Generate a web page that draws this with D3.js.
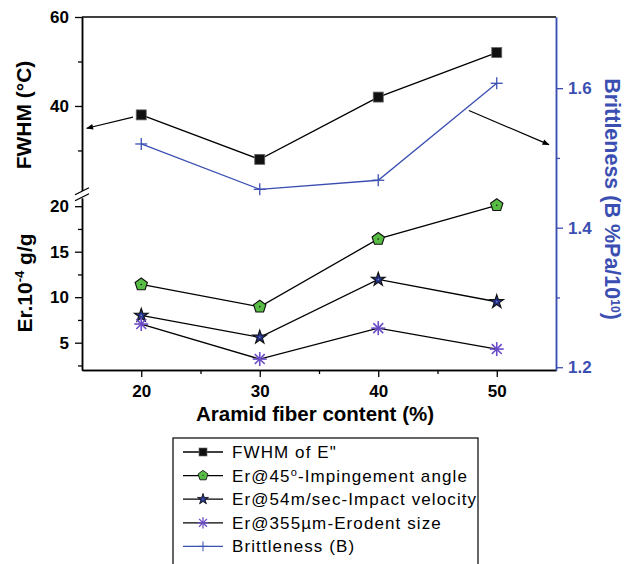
<!DOCTYPE html>
<html>
<head>
<meta charset="utf-8">
<script src="https://cdn.jsdelivr.net/npm/d3@7"></script>
<style>
  body { margin: 0; background: #fff; }
  svg { display: block; font-family: "Liberation Sans", Arial, sans-serif; }
</style>
</head>
<body>
<svg></svg>
<script>
// data
const fiber = [20, 30, 40, 50];
const fwhm = [38, 28, 42, 52];
const erAngle = [11.4, 8.95, 16.4, 20.1];
const erVelocity = [8.0, 5.6, 11.95, 9.5];
const erSize = [7.05, 3.2, 6.6, 4.3];
const brittleness = [1.52, 1.455, 1.468, 1.607];

const xTicks = [20, 30, 40, 50];
const xMinor = [25, 35, 45];
const upperTicks = [40, 60];
const upperMinor = [30, 50];
const lowerTicks = [5, 10, 15, 20];
const lowerMinor = [2.5, 7.5, 12.5, 17.5];
const rightTicks = [1.2, 1.4, 1.6];
const rightMinor = [1.3, 1.5];

const size = { w: 625, h: 564 };
const plot = { l: 82, r: 556, t: 17, b: 370, breakTop: 190.5, breakBot: 198 };
const blue = "#3b4fb2";

const svg = d3.select("svg").attr("width", size.w).attr("height", size.h);

const x = d3.scaleLinear().domain([15, 55]).range([plot.l, plot.r]);
const yUp = d3.scaleLinear().domain([21, 60]).range([plot.breakTop, plot.t]);
const yLow = d3.scaleLinear().domain([2, 20.9]).range([plot.b, plot.breakBot]);
const yR = d3.scaleLinear().domain([1.196, 1.702]).range([plot.b, plot.t]);

function styleAxis(g, color) {
	g.select(".domain").attr("stroke", color).attr("stroke-width", 1.5);
	g.selectAll(".tick line").attr("stroke", color).attr("stroke-width", 1.3);
	g.selectAll(".tick text")
		.attr("fill", color)
		.style("font-size", "17px")
		.style("font-weight", "bold");
}

// top frame
svg.append("line")
	.attr("x1", plot.l).attr("x2", plot.r)
	.attr("y1", plot.t).attr("y2", plot.t)
	.attr("stroke", "#000").attr("stroke-width", 1.5);

// x axis
svg.append("g")
	.attr("transform", `translate(0,${plot.b})`)
	.call(d3.axisBottom(x).tickValues(xMinor).tickSize(4).tickSizeOuter(0).tickFormat(""))
	.call((g) => styleAxis(g, "#000"));
svg.append("g")
	.attr("transform", `translate(0,${plot.b})`)
	.call(d3.axisBottom(x).tickValues(xTicks).tickSize(7).tickSizeOuter(0).tickPadding(8))
	.call((g) => styleAxis(g, "#000"));

// left axis, upper segment (FWHM)
svg.append("g")
	.attr("transform", `translate(${plot.l},0)`)
	.call(d3.axisLeft(yUp).tickValues(upperMinor).tickSize(4).tickSizeOuter(0).tickFormat(""))
	.call((g) => styleAxis(g, "#000"));
svg.append("g")
	.attr("transform", `translate(${plot.l},0)`)
	.call(d3.axisLeft(yUp).tickValues(upperTicks).tickSize(7).tickSizeOuter(0).tickPadding(6))
	.call((g) => styleAxis(g, "#000"));

// left axis, lower segment (Er)
svg.append("g")
	.attr("transform", `translate(${plot.l},0)`)
	.call(d3.axisLeft(yLow).tickValues(lowerMinor).tickSize(4).tickSizeOuter(0).tickFormat(""))
	.call((g) => styleAxis(g, "#000"));
svg.append("g")
	.attr("transform", `translate(${plot.l},0)`)
	.call(d3.axisLeft(yLow).tickValues(lowerTicks).tickSize(7).tickSizeOuter(0).tickPadding(6))
	.call((g) => styleAxis(g, "#000"));

// break marks
const midBreak = (plot.breakTop + plot.breakBot) / 2;
[-3, 3].forEach((dy) => {
	svg.append("line")
		.attr("x1", plot.l - 7).attr("x2", plot.l + 7)
		.attr("y1", midBreak + dy + 3.5).attr("y2", midBreak + dy - 3.5)
		.attr("stroke", "#000").attr("stroke-width", 1.3);
});

// right axis (brittleness)
svg.append("g")
	.attr("transform", `translate(${plot.r},0)`)
	.call(d3.axisRight(yR).tickValues(rightMinor).tickSize(4).tickSizeOuter(0).tickFormat(""))
	.call((g) => styleAxis(g, blue));
svg.append("g")
	.attr("transform", `translate(${plot.r},0)`)
	.call(d3.axisRight(yR).tickValues(rightTicks).tickSize(7).tickSizeOuter(0).tickPadding(5).tickFormat(d3.format(".1f")))
	.call((g) => styleAxis(g, blue));

// axis titles
svg.append("text")
	.attr("x", 315).attr("y", 421)
	.attr("text-anchor", "middle")
	.style("font-size", "20.5px").style("font-weight", "bold")
	.text("Aramid fiber content (%)");

svg.append("text")
	.attr("transform", "translate(31,115) rotate(-90)")
	.attr("text-anchor", "middle")
	.style("font-size", "21px").style("font-weight", "bold")
	.text("FWHM (°C)");

const erTitle = svg.append("text")
	.attr("transform", "translate(32,283) rotate(-90)")
	.attr("text-anchor", "middle")
	.style("font-size", "21px").style("font-weight", "bold");
erTitle.append("tspan").text("Er.10");
erTitle.append("tspan").attr("dy", -8).style("font-size", "13px").text("-4");
erTitle.append("tspan").attr("dy", 8).text(" g/g");

const bTitle = svg.append("text")
	.attr("transform", "translate(605,199) rotate(90)")
	.attr("text-anchor", "middle")
	.attr("fill", blue)
	.style("font-size", "21.5px").style("font-weight", "bold");
bTitle.append("tspan").text("Brittleness (B %Pa/10");
bTitle.append("tspan").attr("dy", -6).style("font-size", "12px").text("10");
bTitle.append("tspan").attr("dy", 6).text(")");

// annotation arrows
const defs = svg.append("defs");
defs.append("marker")
	.attr("id", "arrow")
	.attr("viewBox", "0 0 10 10")
	.attr("refX", 9).attr("refY", 5)
	.attr("markerWidth", 9).attr("markerHeight", 7)
	.attr("markerUnits", "userSpaceOnUse")
	.attr("orient", "auto")
	.append("path")
	.attr("d", "M0,1 L10,5 L0,9 Z")
	.attr("fill", "#000");

svg.append("line")
	.attr("x1", x(19.3)).attr("y1", yUp(37.5))
	.attr("x2", x(15.4)).attr("y2", yUp(35.0))
	.attr("stroke", "#000").attr("stroke-width", 1.2)
	.attr("marker-end", "url(#arrow)");
svg.append("line")
	.attr("x1", x(47.65)).attr("y1", yR(1.568))
	.attr("x2", x(54.4)).attr("y2", yR(1.519))
	.attr("stroke", "#000").attr("stroke-width", 1.2)
	.attr("marker-end", "url(#arrow)");

// marker shapes
const pentagon = (r) => {
	const pts = d3.range(5).map((i) => {
		const a = -Math.PI / 2 + (i * 2 * Math.PI) / 5;
		return [r * Math.cos(a), r * Math.sin(a)];
	});
	return "M" + pts.map((p) => p.join(",")).join("L") + "Z";
};

function drawMarker(g, type) {
	if (type === "square") {
		g.append("rect")
			.attr("x", -5).attr("y", -5).attr("width", 10).attr("height", 10)
			.attr("fill", "#111").attr("stroke", "#666").attr("stroke-width", 0.8);
	} else if (type === "pentagon") {
		g.append("path").attr("d", pentagon(6.5))
			.attr("fill", "#58bd45").attr("stroke", "#111").attr("stroke-width", 1.1);
		g.append("circle").attr("r", 0.8).attr("fill", "#111");
	} else if (type === "star") {
		g.append("path").attr("d", d3.symbol(d3.symbolStar, 58)())
			.attr("fill", "#25338a").attr("stroke", "#111").attr("stroke-width", 1.1);
		g.append("circle").attr("r", 0.8).attr("fill", "#7d8ad0");
	} else if (type === "asterisk") {
		[0, 45, 90, 135].forEach((a) => {
			g.append("line")
				.attr("x1", -7).attr("x2", 7)
				.attr("transform", `rotate(${a})`)
				.attr("stroke", "#6a4cc6").attr("stroke-width", 1.6);
		});
	} else if (type === "plus") {
		g.append("line").attr("x1", -6).attr("x2", 6).attr("stroke", blue).attr("stroke-width", 1.3);
		g.append("line").attr("y1", -6).attr("y2", 6).attr("stroke", blue).attr("stroke-width", 1.3);
	}
}

const seriesList = [
	{ name: 'FWHM of E"', values: fwhm, y: yUp, line: "#000", marker: "square" },
	{ name: "Er@45°-Impingement angle", values: erAngle, y: yLow, line: "#000", marker: "pentagon" },
	{ name: "Er@54m/sec-Impact velocity", values: erVelocity, y: yLow, line: "#000", marker: "star" },
	{ name: "Er@355µm-Erodent size", values: erSize, y: yLow, line: "#000", marker: "asterisk" },
	{ name: "Brittleness (B)", values: brittleness, y: yR, line: blue, marker: "plus" },
];

seriesList.forEach((s) => {
	const pts = fiber.map((f, i) => [x(f), s.y(s.values[i])]);
	svg.append("path")
		.attr("d", d3.line()(pts))
		.attr("fill", "none")
		.attr("stroke", s.line)
		.attr("stroke-width", 1.3);
});
// markers on top
seriesList.forEach((s) => {
	fiber.forEach((f, i) => {
		const g = svg.append("g").attr("transform", `translate(${x(f)},${s.y(s.values[i])})`);
		drawMarker(g, s.marker);
	});
});

// legend
const legend = svg.append("g").attr("transform", "translate(173,438)");
legend.append("rect")
	.attr("width", 305).attr("height", 140)
	.attr("fill", "#fff").attr("stroke", "#000").attr("stroke-width", 1.2);

seriesList.forEach((s, i) => {
	const row = legend.append("g").attr("transform", `translate(0,${14 + i * 23.6})`);
	row.append("line")
		.attr("x1", 10).attr("x2", 50)
		.attr("stroke", s.line).attr("stroke-width", 1.3);
	drawMarker(row.append("g").attr("transform", "translate(30,0) scale(0.8)"), s.marker);
	const t = row.append("text")
		.attr("x", 59).attr("y", 6)
		.style("font-size", "17px")
		.style("letter-spacing", "1.1px");
	if (s.name.includes("°")) {
		t.append("tspan").text("Er@45");
		t.append("tspan").attr("dy", -6).style("font-size", "11px").text("o");
		t.append("tspan").attr("dy", 6).text("-Impingement angle");
	} else {
		t.text(s.name);
	}
});
</script>
</body>
</html>
